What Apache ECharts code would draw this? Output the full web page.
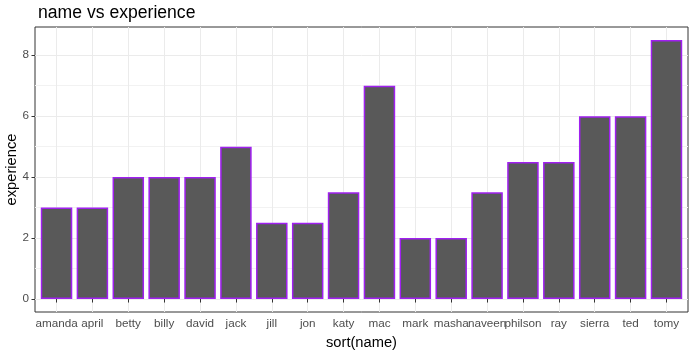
<!DOCTYPE html>
<html>
<head>
<meta charset="utf-8">
<script src="https://cdn.jsdelivr.net/npm/echarts@6/dist/echarts.min.js"></script>
<style>
  html, body { margin: 0; padding: 0; background: #fff; }
  #chart { width: 697px; height: 353px; }
</style>
</head>
<body>
<div id="chart"></div>
<script>
// 数据
const names = ["amanda", "april", "betty", "billy", "david", "jack", "jill", "jon", "katy",
  "mac", "mark", "masha", "naveen", "philson", "ray", "sierra", "ted", "tomy"];
const experience = [3, 3, 4, 4, 4, 5, 2.5, 2.5, 3.5, 7, 2, 2, 3.5, 4.5, 4.5, 6, 6, 8.5];
const yTicks = [0, 2, 4, 6, 8];
const yMinor = [1, 3, 5, 7];

const xPos = names.map((n, i) => i + 1);
const font = "Liberation Sans, Arial, sans-serif";
const gridColor = "#EBEBEB";

const chart = echarts.init(document.getElementById("chart"));

const options = {
  animation: false,
  title: {
    text: "name vs experience",
    left: 33,
    top: -1,
    textStyle: { fontFamily: font, fontSize: 17.6, fontWeight: "normal", color: "#000" }
  },
  grid: {
    left: 35, right: 9, top: 27, bottom: 41,
    containLabel: false,
    outerBoundsMode: "none",
    show: true, borderColor: "#333", borderWidth: 1, backgroundColor: "transparent"
  },
  xAxis: {
    type: "value",
    min: 0.4,
    max: 18.6,
    name: "sort(name)",
    nameLocation: "middle",
    nameGap: 23,
    nameMoveOverlap: false,
    nameTextStyle: { fontFamily: font, fontSize: 14.7, color: "#000" },
    axisLine: { show: false },
    axisTick: { show: true, length: 3.5, customValues: xPos, lineStyle: { color: "#333" } },
    axisLabel: {
      customValues: xPos,
      hideOverlap: false,
      margin: 6,
      fontFamily: font, fontSize: 11.7, color: "#4D4D4D",
      formatter: v => names[Math.round(v) - 1] || ""
    },
    splitLine: { show: true, lineStyle: { color: gridColor, width: 1 } }
  },
  yAxis: [
    {
      type: "value",
      min: -0.425,
      max: 8.925,
      name: "experience",
      nameLocation: "middle",
      nameGap: 16,
      nameMoveOverlap: false,
      nameTextStyle: { fontFamily: font, fontSize: 14.7, color: "#000" },
      axisLine: { show: false },
      axisTick: { show: true, length: 3.5, customValues: yTicks, lineStyle: { color: "#333" } },
      axisLabel: {
        customValues: yTicks,
        margin: 6,
        fontFamily: font, fontSize: 11.7, color: "#4D4D4D"
      },
      splitLine: { show: true, lineStyle: { color: gridColor, width: 1 } }
    },
    {
      // 次网格线
      type: "value",
      min: -0.425,
      max: 8.925,
      position: "left",
      axisLine: { show: false },
      axisTick: { show: false, customValues: yMinor },
      axisLabel: { show: false, customValues: yMinor },
      splitLine: { show: true, lineStyle: { color: "#F2F2F2", width: 1 } }
    }
  ],
  series: [
    {
      type: "bar",
      yAxisIndex: 0,
      data: names.map((n, i) => [i + 1, experience[i]]),
      barWidth: 31.5,
      itemStyle: { color: "#595959", borderColor: "#A020F0", borderWidth: 1.5 }
    }
  ]
};

chart.setOption(options);
</script>
</body>
</html>
